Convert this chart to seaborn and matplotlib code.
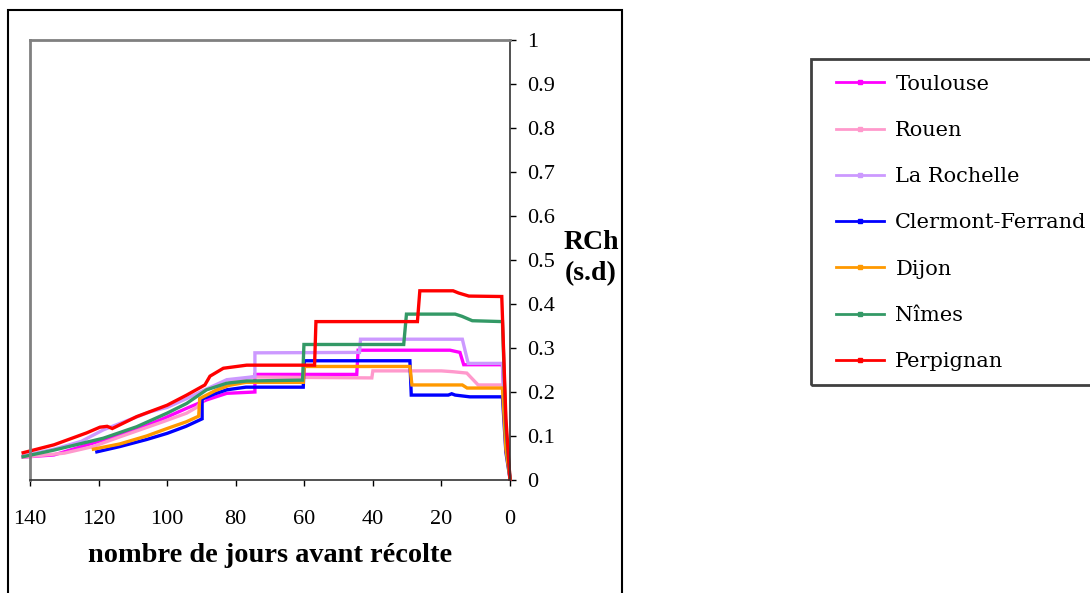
import matplotlib
matplotlib.use("Agg")
import matplotlib.pyplot as plt
import seaborn as sns
import pandas as pd
from matplotlib.lines import Line2D
from matplotlib.patches import Rectangle

# ---------------- data ----------------
cities = ["Toulouse", "Rouen", "La Rochelle", "Clermont-Ferrand", "Dijon", "Nîmes", "Perpignan"]
colors = ["#FF00FF", "#FF99CC", "#CC99FF", "#0000FF", "#FF9900", "#339966", "#FF0000"]

toulouse_days = [142, 133, 118.6, 109, 101, 94.3, 88.5, 82.6, 74.4, 74.4, 44.7, 44.3, 17.5, 14.6, 13.5, 2.2, 1.2, 0]
toulouse_vals = [0.052, 0.057, 0.091, 0.114, 0.140, 0.163, 0.182, 0.197, 0.200, 0.240, 0.240, 0.295, 0.295, 0.290, 0.262, 0.262, 0.085, 0.003]

rouen_days = [142, 130, 121.6, 113.8, 101, 94.3, 91.4, 88.5, 84, 80.7, 74.9, 40.3, 40.0, 20, 16.5, 12.6, 9.3, 2.2, 1.2, 0]
rouen_vals = [0.052, 0.061, 0.076, 0.098, 0.133, 0.152, 0.165, 0.190, 0.212, 0.226, 0.234, 0.232, 0.248, 0.248, 0.246, 0.243, 0.216, 0.216, 0.080, 0.003]

rochelle_days = [142, 133, 125, 118.6, 105, 100, 94.3, 89, 82.6, 74.4, 74.4, 43.9, 43.6, 13.9, 12.2, 2.2, 1.2, 0]
rochelle_vals = [0.055, 0.070, 0.088, 0.114, 0.155, 0.165, 0.185, 0.205, 0.228, 0.235, 0.289, 0.290, 0.320, 0.320, 0.265, 0.265, 0.090, 0.003]

clermont_days = [120.5, 113.8, 106, 100, 94.5, 89.8, 89.8, 86, 82.6, 77, 60.3, 60.0, 29.2, 28.8, 18, 17, 16, 11.7, 2.2, 1.2, 0]
clermont_vals = [0.064, 0.076, 0.092, 0.106, 0.122, 0.139, 0.184, 0.196, 0.205, 0.211, 0.211, 0.271, 0.271, 0.193, 0.193, 0.196, 0.193, 0.189, 0.189, 0.063, 0.003]

dijon_days = [121.5, 113.8, 106, 100, 94.5, 90.8, 90.5, 86, 82, 77, 60.3, 60.0, 29.2, 28.6, 13.9, 12.5, 2.2, 1.2, 0]
dijon_vals = [0.070, 0.082, 0.100, 0.117, 0.132, 0.145, 0.185, 0.203, 0.215, 0.222, 0.222, 0.258, 0.258, 0.216, 0.216, 0.209, 0.209, 0.070, 0.003]

nimes_days = [142, 133, 118.6, 108.9, 100, 94.3, 88.5, 82.6, 76.8, 60.5, 60.1, 31.0, 30.2, 16, 14, 11, 2.2, 1.2, 0]
nimes_vals = [0.053, 0.068, 0.095, 0.121, 0.152, 0.174, 0.205, 0.220, 0.225, 0.227, 0.308, 0.308, 0.377, 0.377, 0.372, 0.362, 0.360, 0.120, 0.003]

perpignan_days = [142, 133, 123.5, 119.6, 117.5, 116, 108.9, 100, 94.3, 89, 87.5, 83.6, 76.8, 57, 56.6, 27.0, 26.3, 16.6, 15, 12, 2.4, 1.2, 0]
perpignan_vals = [0.062, 0.080, 0.107, 0.120, 0.122, 0.117, 0.144, 0.170, 0.193, 0.216, 0.236, 0.254, 0.261, 0.261, 0.360, 0.360, 0.430, 0.430, 0.425, 0.418, 0.417, 0.140, 0.002]

x_ticks = [140, 120, 100, 80, 60, 40, 20, 0]
y_ticks = [0, 0.1, 0.2, 0.3, 0.4, 0.5, 0.6, 0.7, 0.8, 0.9, 1]
y_tick_labels = ["0", "0.1", "0.2", "0.3", "0.4", "0.5", "0.6", "0.7", "0.8", "0.9", "1"]

series = {
    "Toulouse": (toulouse_days, toulouse_vals),
    "Rouen": (rouen_days, rouen_vals),
    "La Rochelle": (rochelle_days, rochelle_vals),
    "Clermont-Ferrand": (clermont_days, clermont_vals),
    "Dijon": (dijon_days, dijon_vals),
    "Nîmes": (nimes_days, nimes_vals),
    "Perpignan": (perpignan_days, perpignan_vals),
}

rows = []
for city in cities:
    d, v = series[city]
    for i, (dd, vv) in enumerate(zip(d, v)):
        rows.append({"city": city, "day": dd, "rch": vv, "order": i})
df = pd.DataFrame(rows)

# ---------------- figure ----------------
plt.rcParams["font.family"] = ["Liberation Serif", "DejaVu Serif"]
W, H = 1090, 593
fig = plt.figure(figsize=(W / 100, H / 100), dpi=100)
fig.patch.set_facecolor("white")

ax = fig.add_axes([30 / W, 1 - 480 / H, 480 / W, 440 / H])
palette = dict(zip(cities, colors))
sns.lineplot(data=df, x="day", y="rch", hue="city", hue_order=cities, palette=palette,
             estimator=None, sort=False, linewidth=2.4, legend=False, ax=ax)
for ln in ax.lines:
    ln.set_clip_on(False)
    ln.set_solid_joinstyle("miter")

ax.set_xlim(140, 0)
ax.set_ylim(0, 1)
ax.set_xticks(x_ticks)
ax.set_xticklabels([str(t) for t in x_ticks])
ax.set_yticks(y_ticks)
ax.set_yticklabels(y_tick_labels)
ax.yaxis.tick_right()
ax.tick_params(axis="y", direction="out", length=4.5, width=1, pad=8, labelsize=16, colors="black")
ax.tick_params(axis="x", direction="out", length=4.5, width=1, pad=17, labelsize=16, colors="black")

for s in ["left", "top"]:
    ax.spines[s].set_color("#808080")
    ax.spines[s].set_linewidth(2)
for s in ["right", "bottom"]:
    ax.spines[s].set_color("#333333")
    ax.spines[s].set_linewidth(1.2)
ax.set_facecolor("white")

ax.set_xlabel("nombre de jours avant récolte", fontsize=20.4, fontweight="bold", labelpad=10)
ax.set_ylabel("RCh\n(s.d)", fontsize=20, fontweight="bold", rotation=0, linespacing=1.3)
ax.yaxis.set_label_position("right")
ax.yaxis.label.set_rotation_mode("default")
ax.yaxis.label.set_horizontalalignment("center")
ax.yaxis.label.set_verticalalignment("center")
ax.yaxis.set_label_coords((591 - 30) / 480, (480 - 258) / 440)

# outer chart frame
fig.add_artist(Rectangle((7.5 / W, -0.05), (622 - 7.5) / W, (H - 10) / H + 0.05,
                         transform=fig.transFigure, fill=False, ec="black", lw=1.5))

# legend
handles = [Line2D([], [], color=c, lw=2, marker="s", markersize=3.5) for c in colors]
fig.legend(handles, cities, loc="upper left", bbox_to_anchor=(836 / W, 1 - 74.5 / H),
           frameon=False, borderpad=0, borderaxespad=0, handlelength=2.3,
           handletextpad=0.55, labelspacing=1.31, numpoints=1,
           prop={"family": "DejaVu Serif", "size": 15})
fig.add_artist(Rectangle((811 / W, 1 - 385 / H), (1100 - 811) / W, (385 - 59) / H,
                         transform=fig.transFigure, fill=False, ec="#404040", lw=2))

fig.savefig("out.png", dpi=100)
